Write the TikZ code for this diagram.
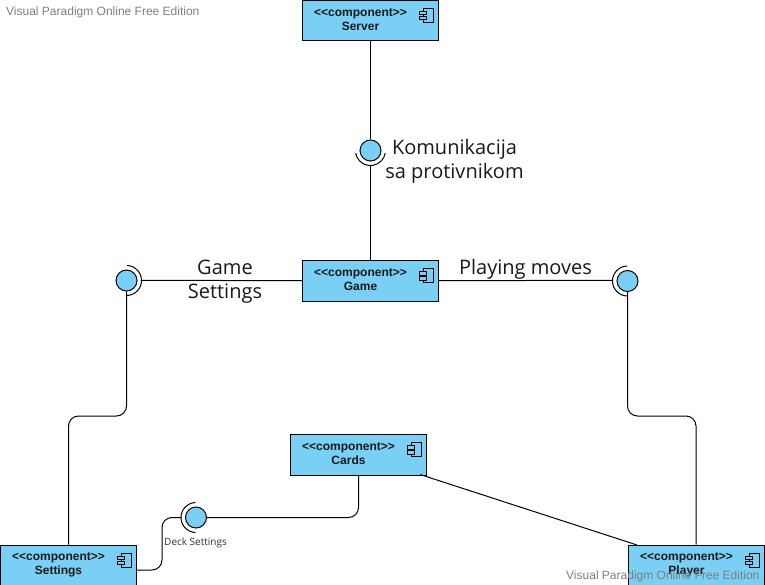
\documentclass[tikz,border=0pt]{standalone}
\usepackage{fontspec}
\setmainfont{Liberation Sans}
\newfontfamily\lblfont{Open Sans}
\definecolor{compfill}{HTML}{7ACFF5}
\definecolor{wmgray}{HTML}{808080}
\tikzset{
  compbox/.style={draw=black,fill=compfill,line width=1pt,minimum width=136pt,minimum height=40.5pt,inner sep=0pt,anchor=north west},
  comptext/.style={font=\bfseries\fontsize{12}{14}\selectfont,align=center,text=black!90,inner sep=0pt},
  ball/.style={circle,draw=black,fill=compfill,line width=1pt,minimum size=21pt,inner sep=0pt},
  wire/.style={draw=black,line width=1pt,rounded corners=10pt},
  socket/.style={draw=black,line width=1pt},
  biglabel/.style={font=\lblfont\fontsize{20}{24}\selectfont,align=center,text=black!90,inner sep=0pt},
  smalllabel/.style={font=\lblfont\fontsize{10}{12}\selectfont,text=black!80,inner sep=0pt},
  watermark/.style={font=\fontsize{12}{14}\selectfont,text=wmgray,inner sep=0pt,anchor=west},
}
\newcommand{\comp}[4]{%
  \node[compbox] (#1) at (#2,#3) {};
  \node[comptext] (#1t) at (#2+58.5,#3+20) {<{}<component>{}>\\#4};
  \draw[line width=1pt,fill=compfill] (#2+121,#3+8.5) rectangle (#2+131,#3+22.5);
  \draw[line width=1pt,fill=compfill] (#2+117.5,#3+11.5) rectangle (#2+124.5,#3+15);
  \draw[line width=1pt,fill=compfill] (#2+117.5,#3+16.5) rectangle (#2+124.5,#3+20);
}
\begin{document}
\begin{tikzpicture}[x=1pt,y=-1pt]
\useasboundingbox (0,0) rectangle (765,585);
\fill[white] (0,0) rectangle (765,585);
\node[watermark] (wma) at (6,12) {Visual Paradigm Online Free Edition};

\comp{server}{302}{0}{Server}
\comp{game}{302}{260}{Game}
\comp{cards}{290}{434}{Cards}
\comp{settings}{0}{544.5}{Settings}
\comp{player}{628}{544.5}{Player}

\node[ball] (ik) at (370.5,150.5) {};
\node[ball] (ig) at (126.5,280.5) {};
\node[ball] (ip) at (627.5,281) {};
\node[ball] (id) at (196,517.5) {};
\coordinate (bendsa) at (68.5,416);
\coordinate (bendsb) at (126.5,416);
\coordinate (bendpa) at (627.5,416);
\coordinate (bendpb) at (696,416);
\coordinate (skn) at (370.5,165.5);
\coordinate (sgn) at (141.5,280.25);
\coordinate (spn) at (612.5,280.25);
\coordinate (sdn) at (181,517.5);
\coordinate (bendca) at (358.5,517.5);
\coordinate (benddb) at (162,570);
\coordinate (benddc) at (162,517.5);
\coordinate (cardsx) at (420,474.5);
\coordinate (playerx) at (637,545);

\draw[wire] (server.south -| ik) -- (ik.north);
\draw[wire] (skn) -- (game.north -| skn);
\draw[wire] (sgn) -- (game.west);
\draw[wire] (game.east) -- (spn);
\draw[wire] (ig.south) -- (bendsb) -- (bendsa) -- (settings.north -| bendsa);
\draw[wire] (ip.south) -- (bendpa) -- (bendpb) -- (player.north -| bendpb);
\draw[wire] (cards.south -| bendca) -- (bendca) -- (id.east);
\draw[wire] (settings.east |- benddb) -- (benddb) -- (benddc) -- (sdn);
\draw[line width=1pt] (cardsx) -- (playerx);

\draw[socket] ([shift={(190:15pt)}]ik.center) arc[start angle=190,end angle=350,radius=15pt];
\draw[socket] ([shift={(-88:15pt)}]ig.center) arc[start angle=-88,end angle=88,radius=15pt];
\draw[socket] ([shift={(92:15pt)}]ip.center) arc[start angle=92,end angle=268,radius=15pt];
\draw[socket] ([shift={(92:15pt)}]id.center) arc[start angle=92,end angle=268,radius=15pt];

\node[biglabel] (lk) at (454.5,161.5) {Komunikacija\\sa protivnikom};
\node[biglabel] (lg) at (225,281.5) {Game\\Settings};
\node[biglabel] (lp) at (525.5,269) {Playing moves};
\node[smalllabel] (ld) at (195.5,543) {Deck Settings};
\node[watermark] (wmb) at (566,576) {Visual Paradigm Online Free Edition};
\end{tikzpicture}
\end{document}
